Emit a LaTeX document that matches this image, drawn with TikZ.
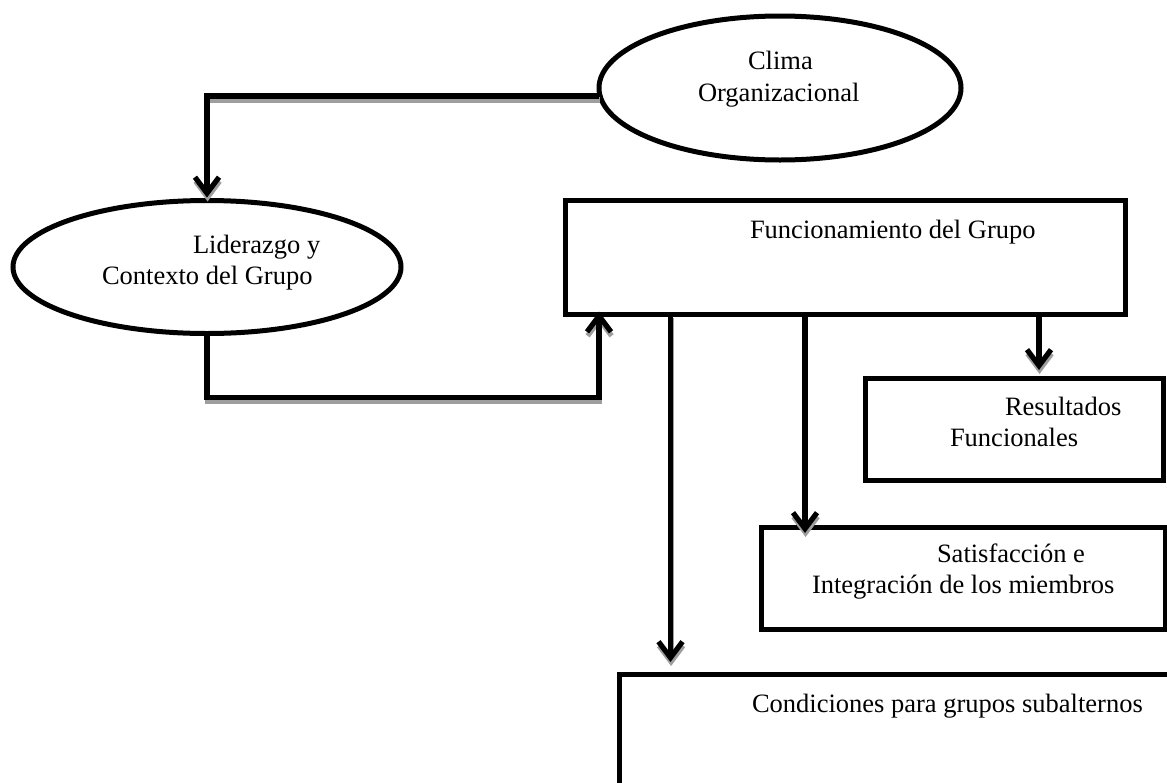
\documentclass[tikz,border=0pt]{standalone}
\usepackage{fontspec}
\setmainfont{Liberation Serif}
\usetikzlibrary{arrows.meta,shapes.geometric,calc}
\begin{document}
\begin{tikzpicture}[x=1pt,y=-1pt,
  frame/.style={draw=black, line width=5pt, fill=white, inner sep=0pt, outer sep=0pt},
  ell/.style={frame, ellipse},
  box/.style={frame, rectangle},
  lbl/.style={anchor=base west, inner sep=0pt, outer sep=0pt, font=\fontsize{26.5}{32}\selectfont},
  tip/.style={-{Straight Barb[length=16pt,width=24pt]}},
  conn/.style={line width=5.2pt, line join=miter, tip, shorten >=#1,
     preaction={draw=black!38, line width=5.2pt, line join=miter, tip, shorten >=#1,
                transform canvas={shift={(0.6pt,-4pt)}}}},
]
\useasboundingbox (0,0) rectangle (1167,782);
\clip (0,0) rectangle (1167,782);

% shapes
\node[ell, minimum width=362pt, minimum height=144pt] (clima) at (780,88) {};
\node[ell, minimum width=388pt, minimum height=133pt] (lid) at (207,267) {};
\node[box, minimum width=560pt, minimum height=114pt] (fun) at (845,257) {};
\node[box, minimum width=298pt, minimum height=102pt] (res) at (1014.5,429.5) {};
\node[box, minimum width=404pt, minimum height=102pt] (sat) at (963,578) {};
\node[box, minimum width=600pt, minimum height=230pt] (cond) at (919,789) {};

% texts
\node[lbl] (t1) at (748,69) {Clima};
\node[lbl] (t2) at (698,101) {Organizacional};
\node[lbl] (t3) at (193,253) {Liderazgo y};
\node[lbl] (t4) at (102,284) {Contexto del Grupo};
\node[lbl] (t5) at (750,238) {Funcionamiento del Grupo};
\node[lbl] (t6) at (1005,415) {Resultados};
\node[lbl] (t7) at (950,446) {Funcionales};
\node[lbl] (t8) at (937,562) {Satisfacción e};
\node[lbl] (t9) at (812,593) {Integración de los miembros};
\node[lbl] (t10) at (752,712) {Condiciones para grupos subalternos};

% connectors
\coordinate (a1) at ($(clima.west)+(0,8)$);
\draw[conn=3pt] (a1) -| (lid.north);
\coordinate (a2) at (599,397.5);
\draw[conn=-2.5pt] (lid.south) |- (a2) -- (a2 |- fun.south);
\coordinate (x3) at (1039,0);
\draw[conn=8.5pt] (x3 |- fun.south) -- (x3 |- res.north);
\coordinate (x4) at (805,0);
\draw[conn=-6pt] (x4 |- fun.south) -- (x4 |- sat.north);
\coordinate (x5) at (670.5,0);
\draw[conn=12pt] (x5 |- fun.south) -- (x5 |- cond.north);
\end{tikzpicture}
\end{document}
